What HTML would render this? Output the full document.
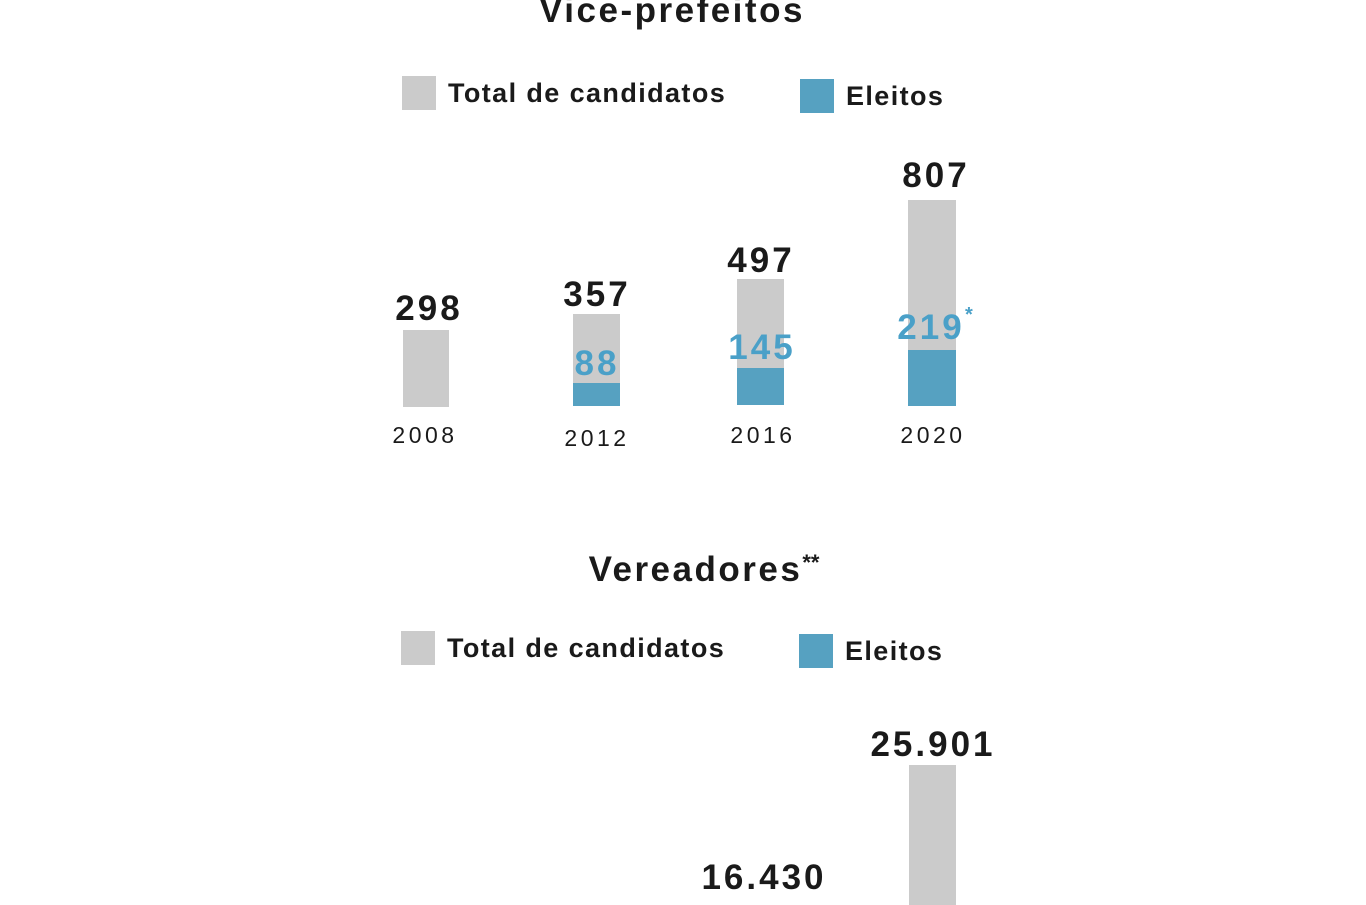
<!DOCTYPE html>
<html><head><meta charset="utf-8"><style>
body{margin:0;width:1366px;height:900px;background:#fff;position:relative;overflow:hidden;font-family:"Liberation Sans",sans-serif;color:#1a1a1a}
.a{position:absolute;white-space:nowrap}
.t{font-weight:bold;font-size:35px;transform:translateX(-50%);letter-spacing:2.5px}
.lg{font-weight:bold;font-size:27px;letter-spacing:1.4px}
.n{font-weight:bold;font-size:35px;transform:translateX(-50%);letter-spacing:3px}
.b{color:#4aa0c8}
.y{font-size:23px;transform:translateX(-50%);letter-spacing:3.5px}
.g{position:absolute;background:#cbcbcb}
.e{position:absolute;background:#56a1c1}
</style></head><body>
<div class="a t" style="left:672px;top:-9px">Vice-prefeitos</div>
<div class="g" style="left:402px;top:76px;width:34px;height:34px"></div>
<div class="a lg" style="left:448px;top:78px">Total de candidatos</div>
<div class="e" style="left:800px;top:79px;width:34px;height:34px"></div>
<div class="a lg" style="left:846px;top:81px">Eleitos</div>

<div class="g" style="left:403px;top:330px;width:46px;height:77px"></div>
<div class="g" style="left:573px;top:314px;width:47px;height:92px"></div>
<div class="e" style="left:573px;top:383px;width:47px;height:23px"></div>
<div class="g" style="left:737px;top:279px;width:47px;height:126px"></div>
<div class="e" style="left:737px;top:368px;width:47px;height:37px"></div>
<div class="g" style="left:908px;top:200px;width:48px;height:206px"></div>
<div class="e" style="left:908px;top:350px;width:48px;height:56px"></div>

<div class="a n" style="left:429px;top:289px">298</div>
<div class="a n" style="left:597px;top:275px">357</div>
<div class="a n" style="left:761px;top:241px">497</div>
<div class="a n" style="left:936px;top:156px">807</div>
<div class="a n b" style="left:597px;top:344px">88</div>
<div class="a n b" style="left:762px;top:328px">145</div>
<div class="a n b" style="left:931px;top:308px">219</div>
<div class="a b" style="left:965px;top:304px;font-size:20px;font-weight:bold">*</div>

<div class="a y" style="left:425px;top:422px">2008</div>
<div class="a y" style="left:597px;top:425px">2012</div>
<div class="a y" style="left:763px;top:422px">2016</div>
<div class="a y" style="left:933px;top:422px">2020</div>

<div class="a t" style="left:704px;top:550px">Vereadores<span style="font-size:22px;vertical-align:top;letter-spacing:0">**</span></div>
<div class="g" style="left:401px;top:631px;width:34px;height:34px"></div>
<div class="a lg" style="left:447px;top:633px">Total de candidatos</div>
<div class="e" style="left:799px;top:634px;width:34px;height:34px"></div>
<div class="a lg" style="left:845px;top:636px">Eleitos</div>
<div class="g" style="left:909px;top:765px;width:47px;height:140px"></div>
<div class="a n" style="left:933px;top:725px">25.901</div>
<div class="a n" style="left:764px;top:858px">16.430</div>
</body></html>
